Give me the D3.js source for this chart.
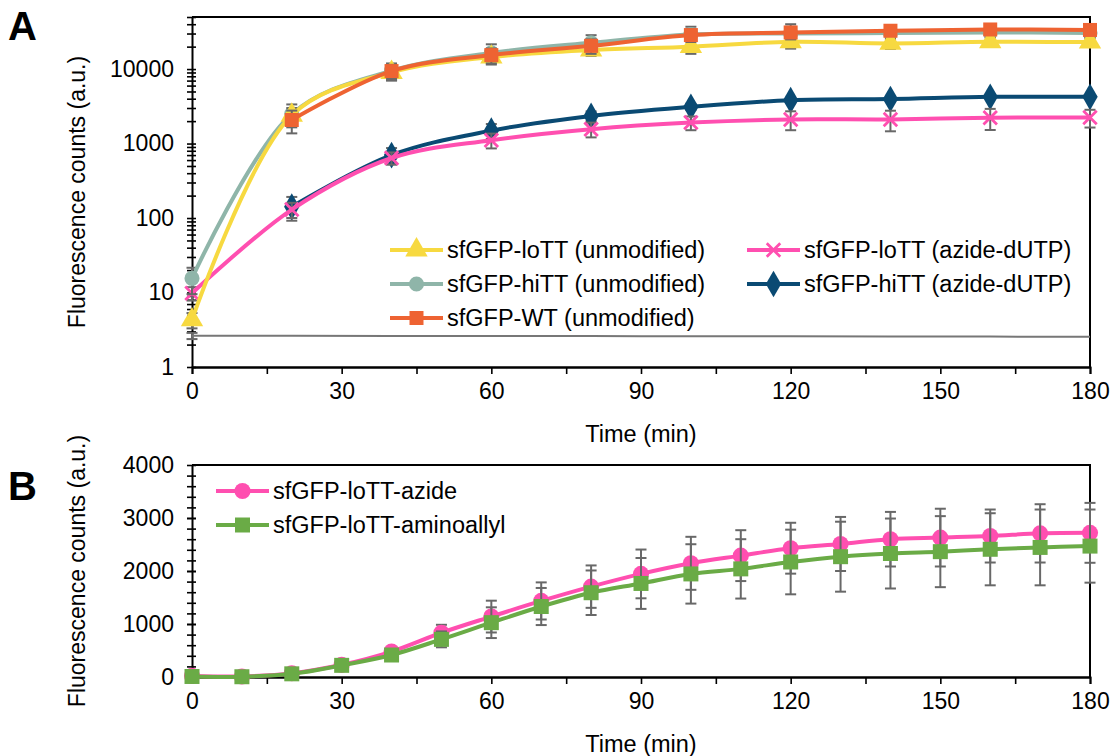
<!DOCTYPE html>
<html>
<head>
<meta charset="utf-8">
<script src="https://cdn.jsdelivr.net/npm/d3@7"></script>
<style>
  body { margin: 0; background: #fff; }
  svg { display: block; font-family: "Liberation Sans", Arial, sans-serif; }
</style>
</head>
<body>
<svg id="chart" width="1117" height="756"></svg>
<script>
// ---- panel A data (log scale) ----
const timesA = [0, 20, 40, 60, 80, 100, 120, 140, 160, 180];
const loTTUnmod = [4.3, 2400, 9000, 14500, 18000, 20000, 23300, 22100, 23300, 23000];
const loTTUnmodErr = [1, 600, 2000, 2500, 3000, 4000, 4500, 3500, 3000, 3000];
const hiTTUnmod = [15.5, 2500, 9500, 16500, 22500, 29000, 30000, 30500, 31000, 30500];
const hiTTUnmodErr = [6, 850, 2400, 5000, 6000, 8000, 10000, 5000, 4000, 4000];
const wtUnmod = [null, 2070, 9400, 15400, 20500, 28600, 31000, 32700, 34000, 33500];
const wtUnmodErr = [null, 700, 2000, 3500, 4500, 5500, 6000, 4000, 3000, 3000];
const loTTAzide = [9.8, 130, 640, 1110, 1560, 1910, 2110, 2110, 2220, 2240];
const loTTAzideErr = [2, 30, 120, 250, 350, 400, 600, 650, 700, 600];
const hiTTAzide = [null, 142, 700, 1490, 2350, 3110, 3820, 3960, 4240, 4240];
const hiTTAzideErr = [null, 50, 170, 340, 350, 300, 250, 250, 200, 200];
const baseline = [2.62, 2.62, 2.61, 2.6, 2.6, 2.59, 2.58, 2.57, 2.56, 2.55];
const baselineErr = [0.25, 0, 0, 0, 0, 0, 0, 0, 0, 0];
const yTicksA = [1, 10, 100, 1000, 10000];

// ---- panel B data (linear) ----
const timesB = [0, 10, 20, 30, 40, 50, 60, 70, 80, 90, 100, 110, 120, 130, 140, 150, 160, 170, 180];
const lottAzide = [20, 10, 70, 230, 480, 835, 1140, 1435, 1705, 1945, 2145, 2290, 2430, 2510, 2600, 2630, 2660, 2710, 2720];
const lottAzideErr = [15, 10, 20, 50, 80, 150, 300, 350, 400, 460, 500, 480, 480, 510, 515, 545, 500, 550, 565];
const lottAmino = [10, 5, 60, 220, 415, 710, 1025, 1330, 1590, 1765, 1945, 2040, 2170, 2270, 2330, 2365, 2410, 2445, 2470];
const lottAminoErr = [10, 10, 20, 50, 90, 150, 290, 350, 420, 480, 560, 560, 610, 660, 660, 670, 680, 715, 690];
const yTicksB = [0, 1000, 2000, 3000, 4000];
const xTicks = [0, 30, 60, 90, 120, 150, 180];

const svg = d3.select('#chart');
const errColor = '#686868';

function makeMarker(g, shape, color, cx, cy, size) {
    if (shape === 'x') {
        const s = size * 0.45;
        g.append('path')
            .attr('d', `M${cx - s},${cy - s}L${cx + s},${cy + s}M${cx - s},${cy + s}L${cx + s},${cy - s}`)
            .attr('stroke', color).attr('stroke-width', 2.8).attr('fill', 'none');
        return;
    }
    const types = {
        triangle: d3.symbolTriangle, circle: d3.symbolCircle,
        square: d3.symbolSquare, diamond: d3.symbolDiamond
    };
    const areas = { triangle: size * size * 0.75, circle: size * size * 0.8, square: size * size, diamond: size * size * 0.8 };
    g.append('path')
        .attr('d', d3.symbol().type(types[shape]).size(areas[shape])())
        .attr('transform', `translate(${cx},${cy})`)
        .attr('fill', color);
}

function drawSeries(g, x, y, times, vals, errs, opts) {
    const pts = times.map((t, i) => ({ t, v: vals[i], e: errs ? errs[i] : null }))
        .filter(d => d.v !== null);
    // error bars
    if (errs) {
        pts.forEach(d => {
            if (!d.e) return;
            const lo = Math.max(d.v - d.e, y.domain()[0]);
            const hi = d.v + d.e;
            const cx = x(d.t);
            const y1 = y(hi), y2 = y(lo);
            g.append('line').attr('x1', cx).attr('x2', cx).attr('y1', y1).attr('y2', y2)
                .attr('stroke', errColor).attr('stroke-width', 2);
            [y1, y2].forEach(yy => {
                g.append('line').attr('x1', cx - 5.5).attr('x2', cx + 5.5).attr('y1', yy).attr('y2', yy)
                    .attr('stroke', errColor).attr('stroke-width', 2);
            });
        });
    }
    const line = d3.line()
        .x(d => x(d.t)).y(d => y(d.v))
        .curve(opts.smooth ? d3.curveCatmullRom.alpha(0.5) : d3.curveLinear);
    g.append('path').datum(pts)
        .attr('d', line)
        .attr('fill', 'none')
        .attr('stroke', opts.color)
        .attr('stroke-width', opts.width)
        .attr('stroke-linejoin', 'round');
    if (opts.shape) {
        pts.forEach(d => makeMarker(g, opts.shape, opts.color, x(d.t), y(d.v), opts.msize));
    }
}

function styleAxis(ax) {
    ax.select('.domain').attr('stroke', '#000').attr('stroke-width', 2);
    ax.selectAll('.tick line').attr('stroke', '#000').attr('stroke-width', 1.6);
    ax.selectAll('.tick text').attr('fill', '#000').attr('font-size', 23)
        .attr('font-family', '"Liberation Sans", Arial, sans-serif');
}

function drawPanel(cfg) {
    const { x, y, top, bottom, left, right } = cfg;
    const g = svg.append('g');

    // frame (top and right)
    g.append('path')
        .attr('d', `M${left},${top}H${right}V${bottom}`)
        .attr('fill', 'none').attr('stroke', '#000').attr('stroke-width', 2);

    // x minor ticks
    const xMinor = g.append('g').attr('transform', `translate(0,${bottom})`)
        .call(d3.axisBottom(x).tickValues([15, 45, 75, 105, 135, 165]).tickSize(7).tickFormat(''));
    styleAxis(xMinor);
    // x major
    const xAx = g.append('g').attr('transform', `translate(0,${bottom})`)
        .call(d3.axisBottom(x).tickValues(xTicks).tickSize(7).tickSizeOuter(0));
    styleAxis(xAx);
    xAx.selectAll('.tick text').attr('y', 16);

    // y minor
    const yMinor = g.append('g').attr('transform', `translate(${left},0)`)
        .call(d3.axisLeft(y).tickValues(cfg.yMinor).tickSize(5).tickFormat(''));
    styleAxis(yMinor);
    yMinor.selectAll('.tick line').attr('x1', 4).attr('x2', -5);
    yMinor.select('.domain').remove();
    // y major
    const yAx = g.append('g').attr('transform', `translate(${left},0)`)
        .call(d3.axisLeft(y).tickValues(cfg.yTicks).tickSize(5).tickSizeOuter(0).tickFormat(d3.format('d')));
    styleAxis(yAx);
    yAx.selectAll('.tick line').attr('x1', 4).attr('x2', -5);
    yAx.selectAll('.tick text').attr('x', -18);

    // titles
    g.append('text')
        .attr('transform', `translate(77,${(top + bottom) / 2}) rotate(-90)`)
        .attr('text-anchor', 'middle').attr('dominant-baseline', 'central')
        .attr('font-size', 23).text('Fluorescence counts (a.u.)');
    g.append('text')
        .attr('x', (left + right) / 2).attr('y', cfg.xTitleY)
        .attr('text-anchor', 'middle').attr('dominant-baseline', 'central')
        .attr('font-size', 23.5).text('Time (min)');
    g.append('text')
        .attr('x', 8).attr('y', cfg.letterY)
        .attr('font-size', 40).attr('font-weight', 'bold').text(cfg.letter);
    return g;
}

function legendItem(g, x0, y0, color, shape, label, msize) {
    g.append('line').attr('x1', x0).attr('x2', x0 + 53).attr('y1', y0).attr('y2', y0)
        .attr('stroke', color).attr('stroke-width', 4);
    makeMarker(g, shape, color, x0 + 26.5, y0, msize);
    g.append('text').attr('x', x0 + 57).attr('y', y0)
        .attr('dominant-baseline', 'central').attr('font-size', 23.5).attr('fill', '#000')
        .text(label);
}

const left = 192, right = 1090;

// ---------------- Panel A ----------------
const xA = d3.scaleLinear().domain([0, 180]).range([left, right]);
const yA = d3.scaleLog().domain([1, 50000]).range([367, 17]);
const minorA = [];
[1, 10, 100, 1000, 10000].forEach(dec => {
    for (let k = 2; k <= 9; k++) if (dec * k <= 50000) minorA.push(dec * k);
});
const gA = drawPanel({ x: xA, y: yA, top: 17, bottom: 367, left, right,
    yTicks: yTicksA, yMinor: minorA, xTitleY: 434, letterY: 40, letter: 'A' });

const seriesA = gA.append('g');
drawSeries(seriesA, xA, yA, timesA, baseline, baselineErr, { color: '#777', width: 2, smooth: true });
drawSeries(seriesA, xA, yA, timesA, hiTTAzide, hiTTAzideErr, { color: '#0a4a73', width: 4, smooth: true, shape: 'diamond', msize: 16 });
drawSeries(seriesA, xA, yA, timesA, loTTAzide, loTTAzideErr, { color: '#ff4fb0', width: 4, smooth: true, shape: 'x', msize: 15 });
drawSeries(seriesA, xA, yA, timesA, hiTTUnmod, hiTTUnmodErr, { color: '#8fb5a9', width: 4, smooth: true, shape: 'circle', msize: 15 });
drawSeries(seriesA, xA, yA, timesA, loTTUnmod, loTTUnmodErr, { color: '#f7d940', width: 4, smooth: true, shape: 'triangle', msize: 17 });
drawSeries(seriesA, xA, yA, timesA, wtUnmod, wtUnmodErr, { color: '#ee6332', width: 4, smooth: true, shape: 'square', msize: 14 });

const legA = gA.append('g');
legendItem(legA, 390, 250, '#f7d940', 'triangle', 'sfGFP-loTT (unmodified)', 17);
legendItem(legA, 390, 284, '#8fb5a9', 'circle', 'sfGFP-hiTT (unmodified)', 15);
legendItem(legA, 390, 318, '#ee6332', 'square', 'sfGFP-WT (unmodified)', 14);
legendItem(legA, 747, 250, '#ff4fb0', 'x', 'sfGFP-loTT (azide-dUTP)', 15);
legendItem(legA, 747, 284, '#0a4a73', 'diamond', 'sfGFP-hiTT (azide-dUTP)', 16);

// ---------------- Panel B ----------------
const xB = d3.scaleLinear().domain([0, 180]).range([left, right]);
const yB = d3.scaleLinear().domain([0, 4000]).range([677, 465]);
const gB = drawPanel({ x: xB, y: yB, top: 465, bottom: 677, left, right,
    yTicks: yTicksB, yMinor: d3.range(200, 4000, 200), xTitleY: 744, letterY: 500, letter: 'B' });

const seriesB = gB.append('g');
drawSeries(seriesB, xB, yB, timesB, lottAzide, lottAzideErr, { color: '#ff4fb0', width: 4, smooth: true, shape: 'circle', msize: 16 });
drawSeries(seriesB, xB, yB, timesB, lottAmino, lottAminoErr, { color: '#6aab46', width: 4, smooth: true, shape: 'square', msize: 15 });

const legB = gB.append('g');
legendItem(legB, 216, 491, '#ff4fb0', 'circle', 'sfGFP-loTT-azide', 16);
legendItem(legB, 216, 525, '#6aab46', 'square', 'sfGFP-loTT-aminoallyl', 15);
</script>
</body>
</html>
